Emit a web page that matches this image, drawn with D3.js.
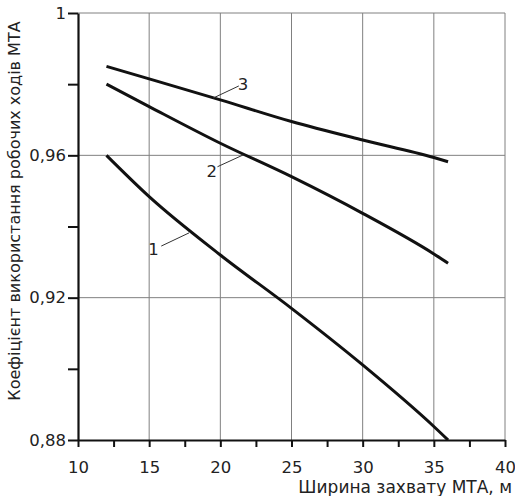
<!DOCTYPE html>
<html>
<head>
<meta charset="utf-8">
<script src="https://cdn.jsdelivr.net/npm/d3@7"></script>
<style>
  body { margin: 0; background: #fff; }
  svg text { font-family: "DejaVu Sans", "Liberation Sans", Arial, sans-serif; fill: #222; }
</style>
</head>
<body>
<div id="chart"></div>
<script>
// ширина захвату, м
const widths = [12, 15, 20, 25, 30, 35, 36];

// коефіцієнт використання робочих ходів
const curve1 = [0.960, 0.9484, 0.932, 0.917, 0.9011, 0.8838, 0.880];
const curve2 = [0.980, 0.9737, 0.9634, 0.954, 0.9437, 0.9323, 0.9297];
const curve3 = [0.985, 0.9815, 0.9756, 0.9695, 0.9643, 0.9594, 0.9582];

const seriesNames = ["1", "2", "3"];

// підписи кривих: [текст x, текст y], лінія [від x, y, до x, y]
const labelText = [[15.3, 0.9336], [19.4, 0.9555], [21.6, 0.980]];
const labelLine = [
  [15.85, 0.9345, 17.8, 0.9382],
  [19.8, 0.9568, 21.6, 0.9601],
  [21.3, 0.9795, 19.5, 0.9761]
];

const yTickLabels = ["0,88", "0,92", "0,96", "1"];

function draw() {
  const width = 515, height = 496;
  const margin = {top: 13, left: 78};
  const innerW = 505 - margin.left;
  const innerH = 440 - margin.top;

  const svg = d3.select("#chart").append("svg")
    .attr("width", width)
    .attr("height", height);

  const g = svg.append("g")
    .attr("transform", `translate(${margin.left},${margin.top})`);

  const x = d3.scaleLinear().domain([10, 40]).range([0, innerW]);
  const y = d3.scaleLinear().domain([0.88, 1]).range([innerH, 0]);

  // сітка
  g.append("g")
    .selectAll("line")
    .data([15, 20, 25, 30, 35, 40])
    .enter().append("line")
    .attr("x1", d => x(d)).attr("x2", d => x(d))
    .attr("y1", 0).attr("y2", innerH)
    .attr("stroke", "#808080").attr("stroke-width", 1);

  g.append("g")
    .selectAll("line")
    .data([0.92, 0.96, 1])
    .enter().append("line")
    .attr("x1", 0).attr("x2", innerW)
    .attr("y1", d => y(d)).attr("y2", d => y(d))
    .attr("stroke", "#808080").attr("stroke-width", 1);

  // осі
  const xAxis = d3.axisBottom(x)
    .tickValues(d3.range(10, 40.1, 2.5))
    .tickSizeInner(7).tickSizeOuter(0).tickPadding(14)
    .tickFormat(d => d % 5 === 0 ? d : "");

  const gx = g.append("g")
    .attr("transform", `translate(0,${innerH})`)
    .call(xAxis);
  gx.select(".domain").attr("stroke", "#111").attr("stroke-width", 2.2);
  gx.selectAll(".tick line").attr("stroke", "#111").attr("stroke-width", 2);
  gx.selectAll(".tick text").style("font-size", "16.5px");

  const yAxis = d3.axisLeft(y)
    .tickValues([0.88, 0.90, 0.92, 0.94, 0.96, 0.98, 1])
    .tickSizeInner(10).tickSizeOuter(0).tickPadding(2)
    .tickFormat((d, i) => i % 2 === 0 ? yTickLabels[i / 2] : "");

  const gy = g.append("g").call(yAxis);
  gy.select(".domain").attr("stroke", "#111").attr("stroke-width", 2.2);
  gy.selectAll(".tick line").attr("stroke", "#111").attr("stroke-width", 2);
  gy.selectAll(".tick text").style("font-size", "16.5px");

  // криві
  const line = d3.line()
    .x(d => x(d[0]))
    .y(d => y(d[1]))
    .curve(d3.curveMonotoneX);

  [curve1, curve2, curve3].forEach(vals => {
    g.append("path")
      .datum(widths.map((w, i) => [w, vals[i]]))
      .attr("d", line)
      .attr("fill", "none")
      .attr("stroke", "#111")
      .attr("stroke-width", 3);
  });

  // підписи кривих
  seriesNames.forEach((name, i) => {
    const l = labelLine[i];
    g.append("line")
      .attr("x1", x(l[0])).attr("y1", y(l[1]))
      .attr("x2", x(l[2])).attr("y2", y(l[3]))
      .attr("stroke", "#333").attr("stroke-width", 1);
    g.append("text")
      .attr("x", x(labelText[i][0]))
      .attr("y", y(labelText[i][1]))
      .attr("dy", "0.36em")
      .attr("text-anchor", "middle")
      .style("font-size", "16.5px")
      .text(name);
  });

  // назви осей
  svg.append("text")
    .attr("x", 512)
    .attr("y", 493)
    .attr("text-anchor", "end")
    .style("font-size", "17px")
    .text("Ширина захвату МТА, м");

  svg.append("text")
    .attr("transform", `translate(20,211) rotate(-90)`)
    .attr("text-anchor", "middle")
    .style("font-size", "16px")
    .text("Коефіцієнт використання робочих ходів МТА");
}

draw();
</script>
</body>
</html>
